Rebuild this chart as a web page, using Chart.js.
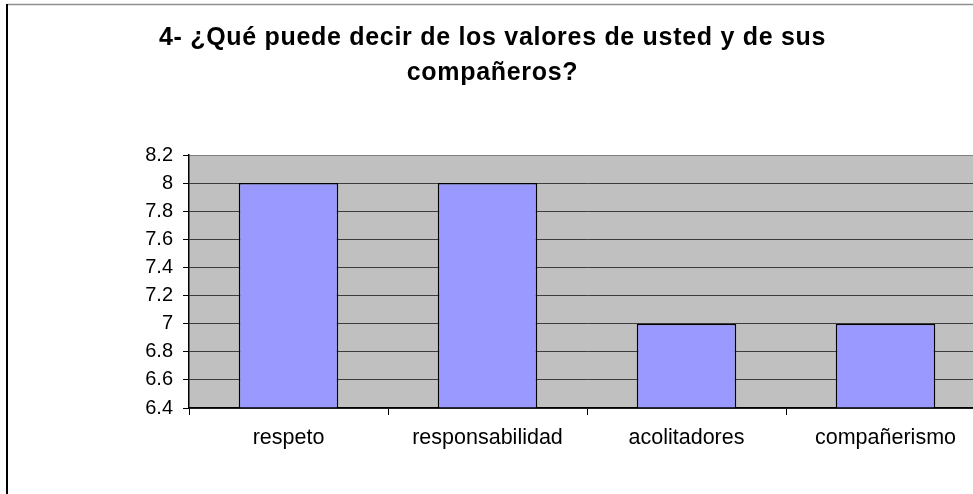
<!DOCTYPE html>
<html>
<head>
<meta charset="utf-8">
<script src="https://cdn.jsdelivr.net/npm/chart.js@4/dist/chart.umd.min.js"></script>
<style>
  html, body { margin: 0; padding: 0; background: #ffffff; overflow: hidden; }
  #c { display: block; }
</style>
</head>
<body>
<canvas id="c" width="992" height="494"></canvas>
<script>
const titleLines = ['4- ¿Qué puede decir de los valores de usted y de sus', 'compañeros?'];
const categories = ['respeto', 'responsabilidad', 'acolitadores', 'compañerismo'];
const values = [8, 8, 7, 7];
const yTicks = [6.4, 6.6, 6.8, 7, 7.2, 7.4, 7.6, 7.8, 8, 8.2];
const yTickLabels = ['6.4', '6.6', '6.8', '7', '7.2', '7.4', '7.6', '7.8', '8', '8.2'];

const FONT = "'Liberation Sans', Arial, sans-serif";

const spacingPlugin = {
  id: 'spacing',
  afterLayout(chart) {
    const ctx = chart.ctx;
    const tb = chart.titleBlock;
    if (tb && !tb._patched) {
      const orig = tb.draw;
      tb.draw = function () { ctx.save(); ctx.letterSpacing = '0.7px'; orig.apply(this, arguments); ctx.restore(); };
      tb._patched = true;
    }
  }
};

const backgroundPlugin = {
  id: 'bgframe',
  beforeDraw(chart) {
    const ctx = chart.ctx;
    const a = chart.chartArea;
    ctx.save();
    ctx.fillStyle = '#ffffff';
    ctx.fillRect(0, 0, chart.width, chart.height);
    ctx.fillStyle = '#C0C0C0';
    ctx.fillRect(a.left, a.top, a.right - a.left, a.bottom - a.top);
    // outer chart frame
    ctx.strokeStyle = '#909090';
    ctx.lineWidth = 1.5;
    ctx.beginPath();
    ctx.moveTo(7, 4.5);
    ctx.lineTo(chart.width, 4.5);
    ctx.stroke();
    ctx.strokeStyle = '#000000';
    ctx.lineWidth = 2;
    ctx.beginPath();
    ctx.moveTo(7, 4);
    ctx.lineTo(7, chart.height);
    ctx.stroke();
    ctx.restore();
  }
};

new Chart(document.getElementById('c'), {
  type: 'bar',
  data: {
    labels: categories,
    datasets: [{
      data: values,
      base: yTicks[0],
      backgroundColor: '#9999FF',
      borderColor: '#000000',
      borderWidth: 1.5,
      categoryPercentage: 0.5,
      barPercentage: 1.0
    }]
  },
  options: {
    responsive: false,
    animation: false,
    devicePixelRatio: 1,
    layout: { padding: { left: 0, right: 7, top: 0, bottom: 20 } },
    plugins: {
      legend: { display: false },
      tooltip: { enabled: false },
      title: {
        display: true,
        text: titleLines,
        color: '#000000',
        font: { family: FONT, size: 25, weight: 'bold', lineHeight: '35px' },
        padding: { top: 21, bottom: 64 }
      }
    },
    scales: {
      x: {
        grid: {
          display: true,
          offset: true,
          drawOnChartArea: false,
          drawTicks: true,
          tickLength: 7,
          tickColor: '#000000',
          tickWidth: 1
        },
        border: { display: true, color: '#000000', width: 1.5 },
        ticks: {
          color: '#000000',
          font: { family: FONT, size: 21.5 },
          padding: 10.5,
          maxRotation: 0,
          autoSkip: false
        },
        afterFit(scale) { scale.height = 66; }
      },
      y: {
        min: yTicks[0],
        max: yTicks[yTicks.length - 1],
        afterBuildTicks(scale) { scale.ticks = yTicks.map(v => ({ value: v })); },
        grid: {
          color: (c) => (c.index === yTicks.length - 1 ? '#808080' : '#3c3c3c'),
          lineWidth: 1,
          drawTicks: true,
          tickLength: 6,
          tickColor: '#000000'
        },
        border: { display: true, color: '#000000', width: 1.5 },
        ticks: {
          color: '#000000',
          font: { family: FONT, size: 20 },
          padding: 10,
          callback: (v, i) => yTickLabels[i]
        },
        afterFit(scale) { scale.width = 189; }
      }
    }
  },
  plugins: [backgroundPlugin, spacingPlugin]
});
</script>
</body>
</html>
